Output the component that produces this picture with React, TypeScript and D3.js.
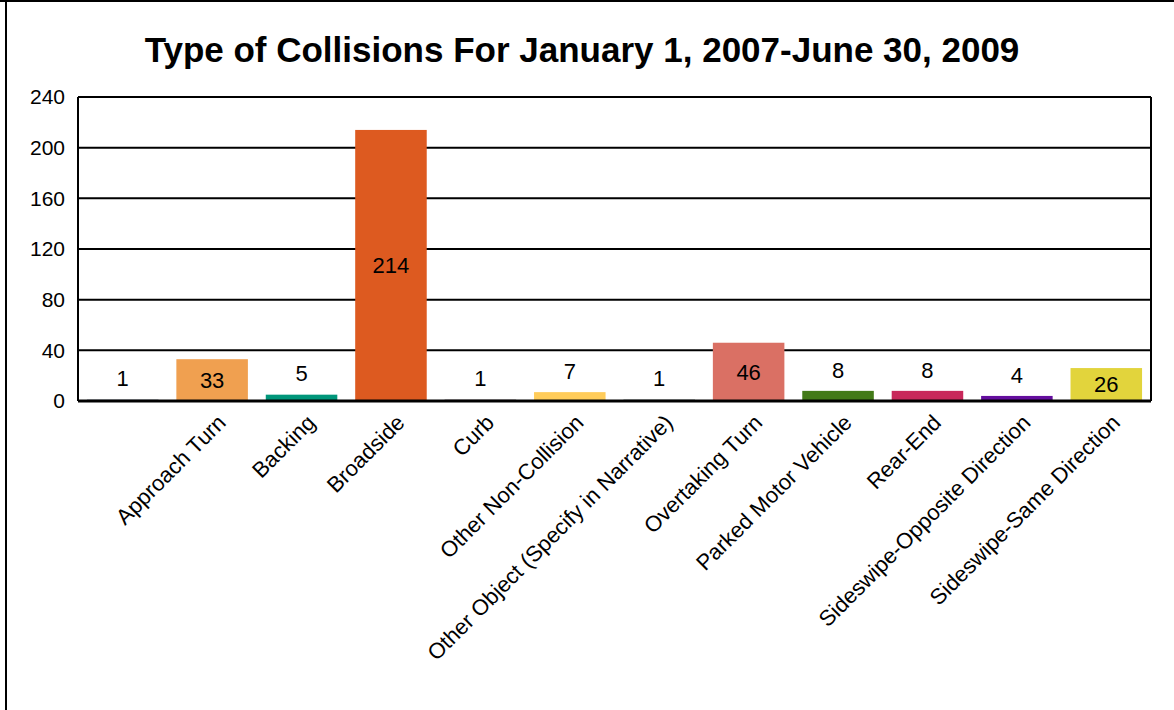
import { scaleBand, scaleLinear } from 'd3'

const categories = [
    '',
    'Approach Turn',
    'Backing',
    'Broadside',
    'Curb',
    'Other Non-Collision',
    'Other Object (Specify in Narrative)',
    'Overtaking Turn',
    'Parked Motor Vehicle',
    'Rear-End',
    'Sideswipe-Opposite Direction',
    'Sideswipe-Same Direction'
]
const counts = [1, 33, 5, 214, 1, 7, 1, 46, 8, 8, 4, 26]
const barColors = [
    '#1f2a44', '#f0a050', '#00967a', '#dd5a20', '#2a1a22', '#ffcc5a',
    '#1a2a2a', '#da7064', '#437a18', '#c8285a', '#640e9e', '#e2d43c'
]
const yTicks = [0, 40, 80, 120, 160, 200, 240]
const title = 'Type of Collisions For January 1, 2007-June 30, 2009'

const W = 1174
const H = 710
const margin = { top: 97, right: 23, bottom: 309, left: 78 }
const font = '"Liberation Sans", Arial, sans-serif'

export default function App() {
    const x = scaleBand<string>()
        .domain(categories.map((c, i) => i + ':' + c))
        .range([margin.left, W - margin.right])
        .paddingInner(0.2)
        .paddingOuter(0.1)

    const y = scaleLinear()
        .domain([0, 240])
        .range([H - margin.bottom, margin.top])

    const keys = x.domain()
    const left = margin.left
    const right = W - margin.right

    return (
        <div style={{ position: 'absolute', left: 0, top: 0 }}>
            <svg width={W} height={H} style={{ display: 'block', fontFamily: font }}>
                <rect x={0} y={0} width={W} height={H} fill="#fff" />
                {/* outer frame */}
                <line x1={6} x2={6} y1={0} y2={H} stroke="#000" strokeWidth={2} />
                <line x1={0} x2={W} y1={1} y2={1} stroke="#000" strokeWidth={2} />

                <text x={582} y={62} textAnchor="middle" fontSize={35} fontWeight="bold">{title}</text>

                {/* grid */}
                {yTicks.map(t => (
                    <g key={t}>
                        <line x1={left} x2={right} y1={y(t)} y2={y(t)} stroke="#000" strokeWidth={2} />
                        <text x={65} y={y(t)} dy="0.35em" textAnchor="end" fontSize={21}>{t}</text>
                    </g>
                ))}
                <line x1={left} x2={left} y1={y(240)} y2={y(0)} stroke="#000" strokeWidth={2} />
                <line x1={right} x2={right} y1={y(240)} y2={y(0)} stroke="#000" strokeWidth={2} />

                {/* bars */}
                {counts.map((v, i) => (
                    <rect
                        key={i}
                        x={x(keys[i])}
                        y={y(v)}
                        width={x.bandwidth()}
                        height={y(0) - y(v)}
                        fill={barColors[i]}
                    />
                ))}
                <line x1={left} x2={right} y1={y(0)} y2={y(0)} stroke="#000" strokeWidth={3} />

                {/* value labels */}
                {counts.map((v, i) => {
                    const cx = x(keys[i])! + x.bandwidth() / 2
                    const h = y(0) - y(v)
                    const cy = h > 24 ? y(v) + h / 2 : y(v) - 21
                    return (
                        <text key={i} x={cx} y={cy} dy="0.35em" textAnchor="middle" fontSize={22}>{v}</text>
                    )
                })}

                {/* category labels */}
                {categories.map((c, i) => {
                    const cx = x(keys[i])! + x.bandwidth() / 2 + 15
                    const ty = y(0) + 23
                    return (
                        <text
                            key={i}
                            transform={`translate(${cx},${ty}) rotate(-45)`}
                            textAnchor="end"
                            fontSize={22}
                        >{c}</text>
                    )
                })}
            </svg>
        </div>
    )
}
